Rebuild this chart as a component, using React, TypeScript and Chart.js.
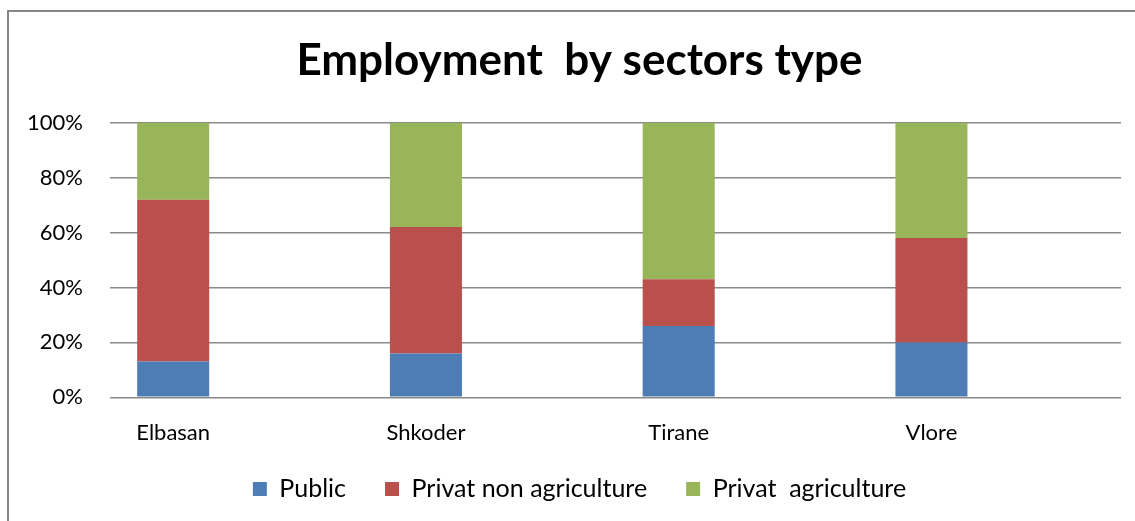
import React, { useEffect, useRef } from "react";
import { Chart, registerables } from "chart.js";

Chart.register(...registerables);

const categories = ["Elbasan", "Shkoder", "Tirane", "Vlore"];
const publicShare = [13, 16, 26, 20];
const privatNonAgri = [59, 46, 17, 38];
const privatAgri = [28, 38, 57, 42];
const yTicks = [0, 20, 40, 60, 80, 100];
const xTicks = [0, 1, 2, 3];

const FONT = "Lato, 'Liberation Sans', sans-serif";

const toPoints = (vals: number[]) => vals.map((y, i) => ({ x: i, y }));
const noLabelClip = (s: any) => { s._computeLabelArea = () => undefined; };

export default function App() {
  const ref = useRef<HTMLCanvasElement | null>(null);

  useEffect(() => {
    if (!ref.current) return;
    const chart = new Chart(ref.current, {
      type: "bar",
      data: {
        datasets: [
          { label: "Public", data: toPoints(publicShare), backgroundColor: "#4E7DB6" },
          { label: "Privat non agriculture", data: toPoints(privatNonAgri), backgroundColor: "#B9504C" },
          { label: "Privat  agriculture", data: toPoints(privatAgri), backgroundColor: "#98B55A" },
        ],
      },
      options: {
        responsive: false,
        animation: false,
        devicePixelRatio: 1,
        layout: { padding: { left: 29, right: 29, top: 0, bottom: 9.5 } },
        datasets: { bar: { categoryPercentage: 1, barPercentage: 0.285 } },
        plugins: {
          title: {
            display: true,
            text: "Employment  by sectors type",
            color: "#000",
            font: { family: FONT, size: 44, weight: "bold", lineHeight: 1.2 },
            padding: { top: 22, bottom: 36 },
          },
          legend: {
            position: "bottom",
            labels: {
              color: "#000",
              font: { family: FONT, size: 25 },
              boxWidth: 14,
              boxHeight: 14,
              padding: 39,
            },
          },
          tooltip: { enabled: false },
        },
        scales: {
          x: {
            type: "linear",
            stacked: true,
            offset: false,
            min: -0.25,
            max: 3.75,
            afterBuildTicks: (s: any) => { s.ticks = xTicks.map((v) => ({ value: v })); },
            afterFit: (s: any) => { s.height = 40.2; noLabelClip(s); },
            grid: { display: false, drawTicks: false },
            border: { display: false },
            ticks: {
              color: "#000",
              font: { family: FONT, size: 22 },
              padding: 22.5,
              maxRotation: 0,
              autoSkip: false,
              callback: (v: any) => categories[v as number] ?? "",
            },
          },
          y: {
            stacked: true,
            min: 0,
            max: 100,
            afterFit: (s: any) => { s.width = 72; noLabelClip(s); },
            afterBuildTicks: (s: any) => { s.ticks = yTicks.map((v) => ({ value: v })); },
            grid: { color: "#8a8a8a", lineWidth: 1.5, drawTicks: false },
            border: { display: false },
            ticks: {
              color: "#000",
              font: { family: FONT, size: 22 },
              padding: 27,
              callback: (v: any) => v + "%",
            },
          },
        },
      },
    });
    return () => chart.destroy();
  }, []);

  return (
    <div style={{ position: "fixed", left: 0, top: 0, width: 1135, height: 521, overflow: "hidden", background: "#fff" }}>
      <div style={{ position: "absolute", left: 7, top: 10, width: 1141, height: 540, border: "2px solid #868686" }}>
        <canvas ref={ref} width={1141} height={509} style={{ display: "block" }} />
      </div>
    </div>
  );
}
